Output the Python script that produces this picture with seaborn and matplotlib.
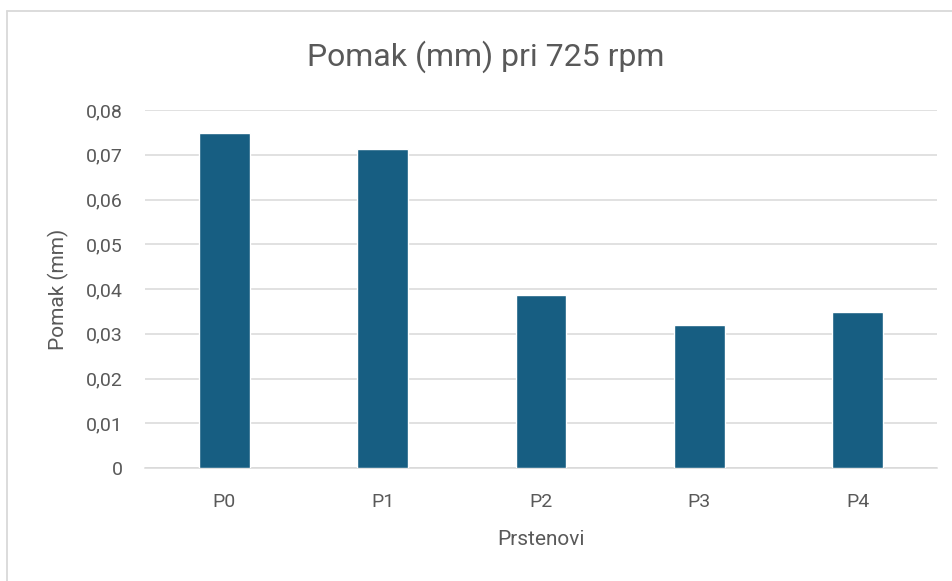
import matplotlib
matplotlib.use("Agg")
import matplotlib.pyplot as plt
from matplotlib.ticker import FuncFormatter, MultipleLocator
from matplotlib.lines import Line2D
import pandas as pd
import seaborn as sns

# data
prstenovi = ["P0", "P1", "P2", "P3", "P4"]
pomak = [0.0749, 0.0713, 0.0386, 0.0319, 0.0348]

bar_color = "#175E82"
text_color = "#595959"
grid_color = "#D9D9D9"

sns.set_theme(style="white")
plt.rcParams["font.family"] = ["Roboto", "DejaVu Sans"]

df = pd.DataFrame({"Prstenovi": prstenovi, "Pomak": pomak})

fig = plt.figure(figsize=(9.53, 5.81), dpi=100)
ax = fig.add_axes([145 / 953, 1 - 468 / 581, (937 - 145) / 953, (468 - 110) / 581])

sns.barplot(data=df, x="Prstenovi", y="Pomak", color=bar_color, width=0.32,
            saturation=1, ax=ax, zorder=3)

ax.set_ylim(0, 0.08)
ax.set_xlim(-0.5, len(prstenovi) - 0.5)
ax.yaxis.set_major_locator(MultipleLocator(0.01))
ax.yaxis.set_major_formatter(
    FuncFormatter(lambda v, _: "0" if abs(v) < 1e-9 else f"{v:.2f}".replace(".", ",")))
ax.grid(axis="y", color=grid_color, linewidth=1.1, zorder=0)
ax.set_axisbelow(True)

for s in ["top", "right", "left"]:
    ax.spines[s].set_visible(False)
ax.spines["bottom"].set_color(grid_color)
ax.spines["bottom"].set_linewidth(1.1)

ax.tick_params(axis="y", length=0, pad=16, labelsize=14, labelcolor=text_color)
ax.tick_params(axis="x", length=0, pad=18, labelsize=14, labelcolor=text_color)

ax.set_xlabel("")
ax.set_ylabel("")
fig.text(541 / 953, 1 - 545 / 581, "Prstenovi", ha="center", va="baseline",
         fontsize=15, color=text_color)
fig.text(58 / 953, 1 - 289 / 581, "Pomak (mm)", ha="center", va="center",
         rotation=90, fontsize=15, color=text_color)

fig.text(486 / 953, 1 - 66 / 581, "Pomak (mm) pri 725 rpm", ha="center",
         va="baseline", fontsize=23, color=text_color)

# chart area frame: only the top and left edges are visible
fx, fy = 6.5 / 953, 1 - 11 / 581
fig.add_artist(Line2D([fx, 1], [fy, fy], transform=fig.transFigure, color=grid_color, linewidth=1.3))
fig.add_artist(Line2D([fx, fx], [0, fy], transform=fig.transFigure, color=grid_color, linewidth=1.3))

fig.savefig("out.png", dpi=100)
